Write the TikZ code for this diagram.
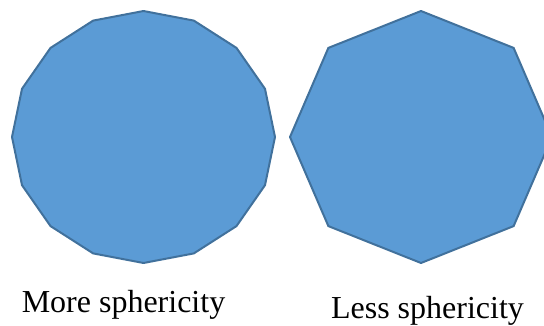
\documentclass[tikz,border=0pt]{standalone}
\usepackage{fontspec}
\setmainfont{Liberation Serif}
\usepackage{tikz}
\definecolor{grainfill}{HTML}{5B9BD5}
\definecolor{grainedge}{HTML}{41719C}
\tikzstyle{grain}=[fill=grainfill, draw=grainedge, line width=2pt, line join=round]
\tikzstyle{caption}=[inner sep=0pt, anchor=base, font=\fontsize{32}{36}\selectfont]

\begin{document}
\begin{tikzpicture}[x=1pt, y=-1pt]
\useasboundingbox (0,0) rectangle (544,325);
\draw[grain] plot[samples=17, domain=0:360] ({143.5+131.5*sin(\x)},{137-126*cos(\x)}) -- cycle;
\draw[grain] plot[samples=9, domain=0:360] ({421+131*sin(\x)},{137-126*cos(\x)}) -- cycle;
\node (more) [caption] at (123.5,312) {More sphericity};
\node (less) [caption] at (427.5,318) {Less sphericity};
\end{tikzpicture}
\end{document}
